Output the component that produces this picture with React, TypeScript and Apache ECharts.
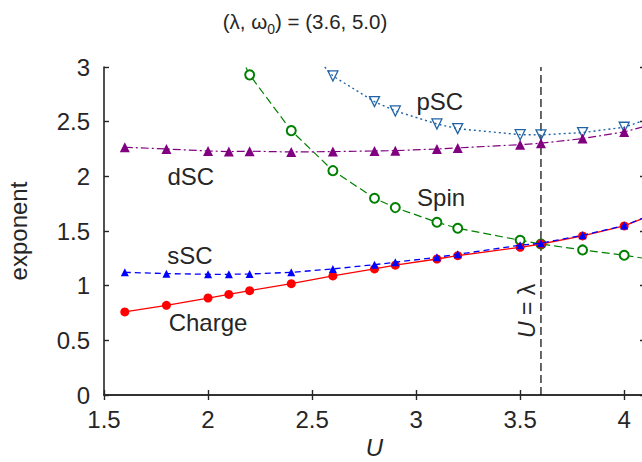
import React, { useEffect, useRef } from 'react';
import * as echarts from 'echarts';

// ---- data ----
const U_MAIN = [1.6, 1.8, 2.0, 2.1, 2.2, 2.4, 2.6, 2.8, 2.9, 3.1, 3.2, 3.5, 3.6, 3.8, 4.0, 4.2];
const CHARGE = [0.76, 0.82, 0.887, 0.92, 0.954, 1.018, 1.089, 1.153, 1.187, 1.244, 1.274, 1.351, 1.381, 1.455, 1.546, 1.7];
const SSC = [1.122, 1.11, 1.104, 1.104, 1.107, 1.122, 1.153, 1.192, 1.214, 1.26, 1.287, 1.37, 1.388, 1.461, 1.55, 1.7];
const DSC = [2.266, 2.25, 2.232, 2.226, 2.23, 2.223, 2.226, 2.232, 2.235, 2.25, 2.26, 2.29, 2.303, 2.345, 2.406, 2.51];

const U_SPIN = [2.0, 2.2, 2.4, 2.6, 2.8, 2.9, 3.1, 3.2, 3.5, 3.6, 3.8, 4.0, 4.2];
const SPIN = [3.68, 2.928, 2.418, 2.052, 1.8, 1.714, 1.58, 1.525, 1.415, 1.381, 1.327, 1.278, 1.22];

const U_PSC = [2.4, 2.6, 2.8, 2.9, 3.1, 3.2, 3.5, 3.6, 3.8, 4.0, 4.2];
const PSC = [3.34, 2.918, 2.683, 2.598, 2.479, 2.436, 2.381, 2.379, 2.4, 2.449, 2.58];

const LAMBDA = 3.6;
const OMEGA0 = 5.0;

const X_TICKS = [1.5, 2, 2.5, 3, 3.5, 4];
const Y_TICKS = [0, 0.5, 1, 1.5, 2, 2.5, 3];

// annotation anchors (data coordinates)
const ANNOTATIONS = [
  { name: 'pSC', at: [3.114, 2.68] },
  { name: 'dSC', at: [1.917, 1.995] },
  { name: 'Spin', at: [3.12, 1.81] },
  { name: 'sSC', at: [1.913, 1.28] },
  { name: 'Charge', at: [2.0, 0.66] },
];
const LAMBDA_LABEL_AT = [3.533, 0.77];

const FONT = "'Liberation Sans', Arial, Helvetica, sans-serif";
const INK = '#262626';

const zip = (xs: number[], ys: number[]) => xs.map((x, i) => [x, ys[i]]);

export default function App() {
  const ref = useRef<HTMLDivElement>(null);
  useEffect(() => {
    const chart = echarts.init(ref.current!, null, { renderer: 'svg' });
    const axisLine = { show: true, lineStyle: { color: INK, width: 1.6 } };
    const axisTick = { show: true, inside: true, length: 5, lineStyle: { color: INK, width: 1.4 } };
    const xBase = {
      type: 'value', min: 1.5, max: 4.1, interval: 0.5,
      axisLine, axisTick, splitLine: { show: false },
    };
    const yBase = {
      type: 'value', min: 0, max: 3, interval: 0.5,
      axisLine, axisTick, splitLine: { show: false },
    };
    const fmt = (v: number) => {
      const t = X_TICKS.find((k) => Math.abs(k - v) < 1e-6);
      return t === undefined ? '' : String(t);
    };
    const yfmt = (v: number) => {
      const t = Y_TICKS.find((k) => Math.abs(k - v) < 1e-6);
      return t === undefined ? '' : String(t);
    };
    chart.setOption({
      animation: false,
      backgroundColor: '#ffffff',
      textStyle: { fontFamily: FONT },
      grid: { left: 104, top: 67, right: -3, bottom: 67, containLabel: false, outerBoundsMode: 'none' },
      xAxis: [
        {
          ...xBase, position: 'bottom',
          axisLabel: { show: true, fontSize: 24, color: INK, margin: 12, fontFamily: FONT, formatter: fmt, showMaxLabel: false },
          name: 'U', nameLocation: 'middle', nameGap: 36,
          nameTextStyle: { fontSize: 24, fontStyle: 'italic', color: INK, fontFamily: FONT },
        },
        { ...xBase, position: 'top', axisLabel: { show: false } },
      ],
      yAxis: [
        {
          ...yBase, position: 'left',
          axisLabel: { show: true, fontSize: 24, color: INK, margin: 14, fontFamily: FONT, formatter: yfmt },
          name: 'exponent', nameLocation: 'middle', nameGap: 74, nameRotate: 90,
          nameTextStyle: { fontSize: 24, color: INK, fontFamily: FONT },
        },
        { ...yBase, position: 'right', axisLabel: { show: false } },
      ],
      graphic: [
        {
          type: 'text', x: 305, y: 21,
          style: {
            text: '(λ, ω{sub|0}) = (' + LAMBDA.toFixed(1) + ', ' + OMEGA0.toFixed(1) + ')',
            fill: INK, font: '20.5px ' + FONT, align: 'center', verticalAlign: 'middle',
            lineHeight: 30,
            rich: { sub: { fontSize: 14, lineHeight: 14, verticalAlign: 'bottom', fill: INK, fontFamily: FONT } },
          },
        },
      ],
      series: [
        {
          name: 'U=lambda', type: 'line', data: [[LAMBDA, 0], [LAMBDA, 3]],
          symbol: 'none', lineStyle: { color: '#000', width: 1.2, type: [8, 4] }, z: 1,
        },
        {
          name: 'Spin', type: 'line', data: zip(U_SPIN, SPIN),
          symbol: 'emptyCircle', symbolSize: 9,
          lineStyle: { color: '#008000', width: 1.2, type: [8, 4] },
          itemStyle: { color: '#008000', borderWidth: 1.2 }, z: 2,
        },
        {
          name: 'pSC', type: 'line', data: zip(U_PSC, PSC),
          symbol: 'triangle', symbolRotate: 180, symbolSize: 10,
          lineStyle: { color: '#1f63a6', width: 1.4, type: [2, 3] },
          itemStyle: { color: 'rgba(255,255,255,0)', borderColor: '#1f63a6', borderWidth: 1.3 }, z: 3,
        },
        {
          name: 'dSC', type: 'line', data: zip(U_MAIN, DSC),
          symbol: 'triangle', symbolSize: 10,
          lineStyle: { color: '#800080', width: 1.2, type: [8, 3, 2, 3] },
          itemStyle: { color: '#800080' }, z: 4,
        },
        {
          name: 'Charge', type: 'line', data: zip(U_MAIN, CHARGE),
          symbol: 'circle', symbolSize: 9,
          lineStyle: { color: '#ff0000', width: 1.3 },
          itemStyle: { color: '#ff0000' }, z: 5,
        },
        {
          name: 'sSC', type: 'line', data: zip(U_MAIN, SSC),
          symbol: 'triangle', symbolSize: 8,
          lineStyle: { color: '#0000ff', width: 1.3, type: [6, 4] },
          itemStyle: { color: '#0000ff' }, z: 6,
        },
        {
          name: 'labels', type: 'scatter', symbolSize: 0, z: 10,
          itemStyle: { opacity: 1 },
          data: ANNOTATIONS.map((a) => ({ name: a.name, value: a.at })),
          label: {
            show: true, position: 'inside', formatter: (p: any) => p.name,
            fontSize: 24, color: INK, fontFamily: FONT, opacity: 1,
          },
          silent: true,
        },
        {
          name: 'lambdaLabel', type: 'scatter', symbolSize: 0, z: 10,
          itemStyle: { opacity: 1 },
          data: [{ name: 'U = λ', value: LAMBDA_LABEL_AT }],
          label: {
            show: true, position: 'inside', rotate: 90,
            formatter: '{i|U} = λ', opacity: 1,
            fontSize: 23, color: INK, fontFamily: FONT,
            rich: { i: { fontStyle: 'italic', fontSize: 23, color: INK, fontFamily: FONT } },
          },
          silent: true,
        },
      ],
    });
    return () => chart.dispose();
  }, []);
  return (
    <div
      ref={ref}
      style={{ position: 'absolute', left: 0, top: 0, width: 642, height: 462, background: '#fff' }}
    />
  );
}
